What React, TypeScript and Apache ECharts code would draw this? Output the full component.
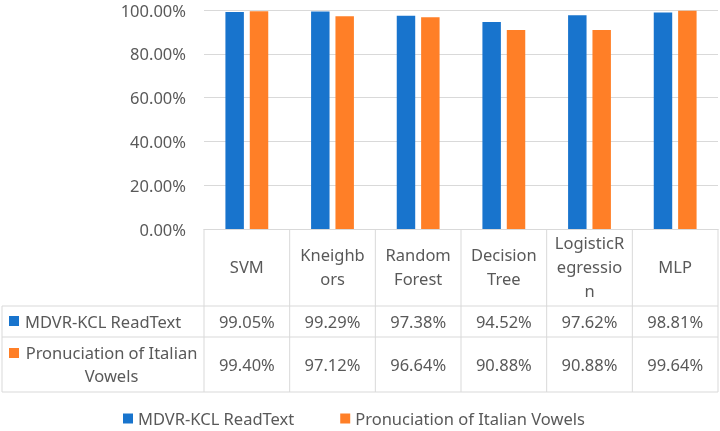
import React, { useEffect, useRef } from "react";
import * as echarts from "echarts";

const categories = ["SVM", "Kneighbors", "Random Forest", "Decision Tree", "LogisticRegression", "MLP"];
const headerLabels = ["SVM", "Kneighb\nors", "Random\nForest", "Decision\nTree", "LogisticR\negressio\nn", "MLP"];
const seriesNames = ["MDVR-KCL ReadText", "Pronuciation of Italian Vowels"];
const rowLabels = ["MDVR-KCL ReadText", "Pronuciation of Italian\nVowels"];
const mdvrValues = [99.05, 99.29, 97.38, 94.52, 97.62, 98.81];
const italianValues = [99.4, 97.12, 96.64, 90.88, 90.88, 99.64];
const yTicks = { min: 0, max: 100, interval: 20 };

const BLUE = "#1874CD";
const ORANGE = "#FF7F27";
const GRID_C = "#D9D9D9";
const TEXT_C = "#595959";
const FONT = '"Noto Sans", "Open Sans", sans-serif';
const FS = 16.5;

export default function App() {
  const ref = useRef<HTMLDivElement>(null);
  useEffect(() => {
    if (!ref.current) return;
    const chart = echarts.init(ref.current, null, { renderer: "svg" });
    const left = 204, right = 718, top = 10, axisY = 229;
    const headerBottom = 306, row1Bottom = 337, tableBottom = 392, tableLeft = 2;
    const cellW = (right - left) / categories.length;
    const line = (x1: number, y1: number, x2: number, y2: number) => ({
      type: "line",
      silent: true,
      shape: { x1, y1, x2, y2 },
      style: { stroke: GRID_C, lineWidth: 1 },
    });
    const graphics: any[] = [];
    [headerBottom, row1Bottom, tableBottom].forEach((y) => graphics.push(line(tableLeft, y, right, y)));
    for (let i = 0; i <= categories.length; i++) {
      const x = left + i * cellW;
      graphics.push(line(x, axisY, x, tableBottom));
    }
    graphics.push(line(tableLeft, headerBottom, tableLeft, tableBottom));
    const rowCenters = [321.5, 364];
    const rowColors = [BLUE, ORANGE];
    const rowValues = [mdvrValues, italianValues];
    rowValues.forEach((vals, r) => {
      vals.forEach((v, i) => {
        graphics.push({
          type: "text",
          silent: true,
          x: left + (i + 0.5) * cellW,
          y: rowCenters[r],
          style: {
            text: v.toFixed(2) + "%",
            fill: TEXT_C,
            font: `${FS}px ${FONT}`,
            align: "center",
            verticalAlign: "middle",
          },
        });
      });
      graphics.push({
        type: "rect",
        silent: true,
        shape: { x: 9, y: [316, 348][r], width: 10, height: 10 },
        style: { fill: rowColors[r] },
      });
    });
    graphics.push({
      type: "text",
      silent: true,
      x: 25,
      y: rowCenters[0],
      style: { text: rowLabels[0], fill: TEXT_C, font: `${FS}px ${FONT}`, align: "left", verticalAlign: "middle" },
    });
    graphics.push({
      type: "text",
      silent: true,
      x: 111.5,
      y: 363.5,
      style: {
        text: rowLabels[1],
        fill: TEXT_C,
        font: `${FS}px ${FONT}`,
        align: "center",
        verticalAlign: "middle",
        lineHeight: 23,
      },
    });

    chart.setOption({
      animation: false,
      textStyle: { fontFamily: FONT },
      grid: { left, right: 720 - right, top, bottom: 431 - axisY },
      legend: {
        data: seriesNames,
        left: 123,
        top: 410,
        padding: 0,
        icon: "rect",
        itemWidth: 10,
        itemHeight: 10,
        itemGap: 46,
        textStyle: { color: TEXT_C, fontSize: FS, fontFamily: FONT },
      },
      xAxis: {
        type: "category",
        data: categories,
        axisLine: { show: true, lineStyle: { color: GRID_C } },
        axisTick: { show: false },
        axisLabel: {
          interval: 0,
          formatter: (_v: string, idx: number) => headerLabels[idx],
          color: TEXT_C,
          fontSize: FS,
          fontFamily: FONT,
          lineHeight: 24,
          margin: 37.5,
          verticalAlign: "middle",
        },
      },
      yAxis: {
        type: "value",
        min: yTicks.min,
        max: yTicks.max,
        interval: yTicks.interval,
        axisLine: { show: false },
        axisTick: { show: false },
        splitLine: { lineStyle: { color: GRID_C } },
        axisLabel: {
          formatter: (v: number) => v.toFixed(2) + "%",
          color: TEXT_C,
          fontSize: FS,
          fontFamily: FONT,
          margin: 18,
        },
      },
      series: [
        { name: seriesNames[0], type: "bar", data: mdvrValues, itemStyle: { color: BLUE }, barGap: "32%", barCategoryGap: "50%" },
        { name: seriesNames[1], type: "bar", data: italianValues, itemStyle: { color: ORANGE }, barGap: "32%", barCategoryGap: "50%" },
      ],
      graphic: graphics,
    });
    return () => chart.dispose();
  }, []);
  return <div ref={ref} style={{ position: "fixed", left: 0, top: 0, width: 720, height: 431 }} />;
}
